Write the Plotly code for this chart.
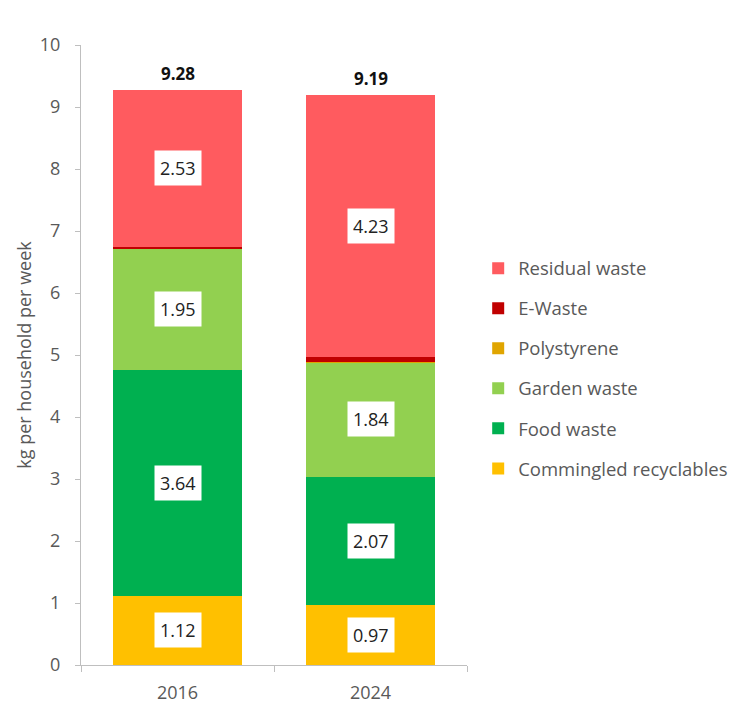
import plotly.graph_objects as go

years = ["2016", "2024"]

series_names = [
    "Commingled recyclables",
    "Food waste",
    "Garden waste",
    "Polystyrene",
    "E-Waste",
    "Residual waste",
]
commingled = [1.12, 0.97]
food = [3.64, 2.07]
garden = [1.95, 1.84]
polystyrene = [0.01, 0.01]
ewaste = [0.03, 0.07]
residual = [2.53, 4.23]
totals = [9.28, 9.19]

series_values = [commingled, food, garden, polystyrene, ewaste, residual]
colors = ["#FFC000", "#00B050", "#92D050", "#E0A500", "#C00000", "#FF5B5F"]
labelled = [True, True, True, False, False, True]

font_family = "'Open Sans', 'Noto Sans', sans-serif"
gray = "#595959"

fig = go.Figure()

n = len(series_names)
for k, (name, vals, col) in enumerate(zip(series_names, series_values, colors)):
    fig.add_trace(
        go.Bar(
            x=years,
            y=vals,
            name=name,
            legendgroup=name,
            legendrank=n - k,
            marker=dict(color=col, line=dict(width=0)),
            hoverinfo="name+y",
        )
    )

# white value boxes in the middle of the big segments, totals above
# (x given as category index: numeric-looking names would be read as indices)
annotations = []
for i, yr in enumerate(years):
    base = 0
    for vals, show in zip(series_values, labelled):
        v = vals[i]
        if show:
            annotations.append(
                dict(
                    x=i,
                    y=base + v / 2,
                    text="%.2f" % v,
                    showarrow=False,
                    bgcolor="white",
                    borderpad=5,
                    font=dict(size=18, color="#222222", family=font_family),
                )
            )
        base += v
    annotations.append(
        dict(
            x=i,
            y=totals[i],
            text="<b>%.2f</b>" % totals[i],
            showarrow=False,
            yanchor="bottom",
            yshift=3,
            font=dict(size=17, color="#111111", family=font_family),
        )
    )

# the page puts the figure 8px in from the top-left corner; the figure is
# made a bit wider than the window so the legend doesn't squeeze the plot
fig.update_layout(
    barmode="stack",
    bargap=0.33,
    width=770,
    height=704,
    margin=dict(l=73, r=311, t=37, b=47),
    paper_bgcolor="white",
    plot_bgcolor="white",
    font=dict(family=font_family, color=gray),
    annotations=annotations,
    showlegend=True,
    legend=dict(
        traceorder="grouped",
        tracegroupgap=13,
        x=1.029,
        xanchor="left",
        y=0.67,
        yanchor="top",
        font=dict(size=18.5, color=gray, family=font_family),
        itemwidth=30,
    ),
    xaxis=dict(
        type="category",
        range=[-0.5, 1.5],
        automargin=False,
        showline=True,
        linecolor="#BFBFBF",
        linewidth=1,
        ticks="outside",
        tickson="boundaries",
        ticklen=6,
        tickcolor="#BFBFBF",
        tickfont=dict(size=18, color=gray),
        ticklabelstandoff=11,
        showgrid=False,
    ),
    yaxis=dict(
        range=[0, 10],
        dtick=1,
        automargin=False,
        showline=True,
        linecolor="#BFBFBF",
        linewidth=1,
        ticks="outside",
        ticklen=5,
        tickcolor="#BFBFBF",
        tickfont=dict(size=18, color=gray),
        ticklabelstandoff=11,
        showgrid=False,
        zeroline=False,
        title=dict(
            text="kg per household per week",
            font=dict(size=18, color=gray),
            standoff=3,
        ),
    ),
)

fig.write_html("out.html")
